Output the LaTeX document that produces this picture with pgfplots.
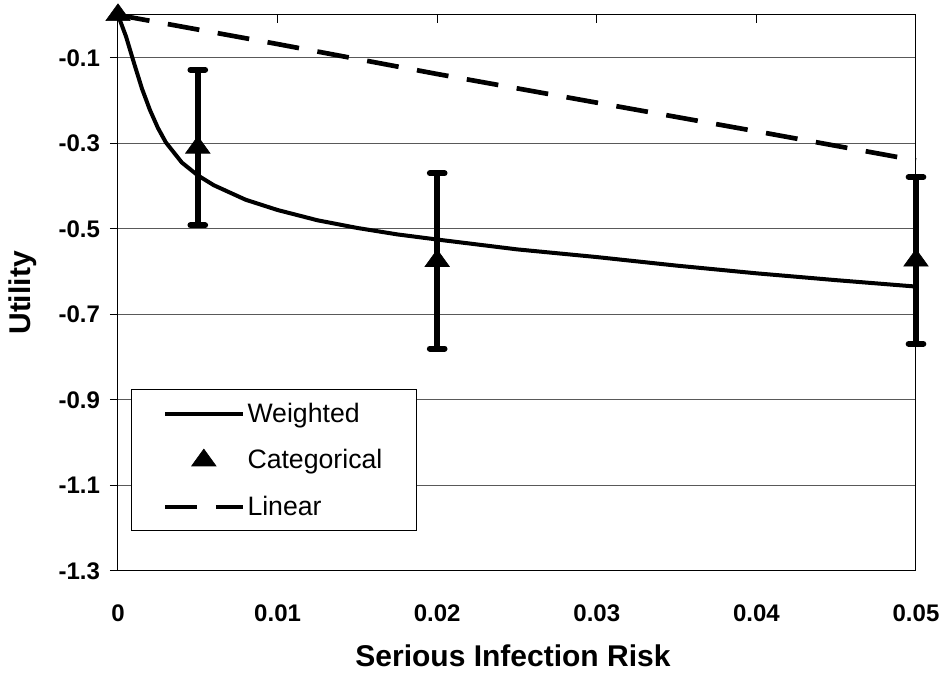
\documentclass[border=0pt]{standalone}
\usepackage{fontspec}
\setmainfont{Liberation Sans}
\usepackage{pgfplots}
\pgfplotsset{compat=1.18}
\pgfplotsset{
  linelegend/.style={legend image code/.code={\draw[##1] (0pt,0pt) -- (58pt,0pt);}},
  catlegend/.style={legend image code/.code={\draw[##1] plot coordinates {(29pt,0pt)};}},
}
\begin{document}
\begin{tikzpicture}[x=1pt,y=1pt]
\path[use as bounding box] (-88.5,-76.5) rectangle (616.5,428.25);
\begin{axis}[
  at={(0pt,0pt)}, anchor=south west,
  scale only axis, width=598.5pt, height=417pt,
  xmin=0, xmax=0.05, ymin=-1.3, ymax=0,
  clip=false,
  scaled x ticks=false, scaled y ticks=false,
  xtick={0,0.01,0.02,0.03,0.04,0.05},
  xticklabels={0,0.01,0.02,0.03,0.04,0.05},
  ytick={-1.3,-1.1,-0.9,-0.7,-0.5,-0.3,-0.1},
  yticklabels={-1.3,-1.1,-0.9,-0.7,-0.5,-0.3,-0.1},
  xtick pos=upper, xticklabel pos=lower,
  ytick pos=left,
  tick align=outside,
  major tick length=6pt,
  x tick style={yshift=-6pt, line width=0.75pt, black},
  y tick style={line width=0.75pt, black},
  ymajorgrids,
  grid style={black!65, line width=0.75pt},
  axis line style={black, line width=0.75pt},
  /pgf/number format/assume math mode=true,
  ticklabel style={font=\fontsize{18}{21}\selectfont\bfseries},
  xticklabel style={yshift=-15.5pt},
  yticklabel style={xshift=-4pt},
  xlabel={Serious Infection Risk},
  ylabel={Utility},
  xlabel style={font=\fontsize{22.5}{26}\selectfont\bfseries, at={(axis description cs:0.495,-0.152)}, anchor=center},
  ylabel style={font=\fontsize{22.5}{26}\selectfont\bfseries, at={(axis description cs:-0.119,0.5)}, anchor=center, rotate=0},
  legend style={at={(axis description cs:0.0163,0.327)}, anchor=north west,
    draw=black, line width=0.75pt, fill=white,
    font=\fontsize{20}{24}\selectfont,
    row sep=15pt, inner xsep=23.5pt, inner ysep=8pt},
  legend cell align=left,
]
\addplot[black, line width=3pt, line join=round, linelegend] coordinates {
(0,0) (0.0005,-0.05) (0.001,-0.112) (0.0015,-0.172) (0.002,-0.222)
(0.0025,-0.264) (0.003,-0.298) (0.004,-0.345) (0.005,-0.375)
(0.006,-0.398) (0.008,-0.432) (0.01,-0.456) (0.0125,-0.48)
(0.015,-0.498) (0.0175,-0.513) (0.02,-0.525) (0.025,-0.548)
(0.03,-0.566) (0.035,-0.586) (0.04,-0.604) (0.045,-0.62) (0.05,-0.635)
};
\addlegendentry{Weighted}
\addplot[black, only marks, mark=triangle*, mark size=10.5pt,
  mark options={yscale=0.8, fill=black, line width=0.5pt},
  catlegend,
  error bars/.cd, y dir=both, y explicit,
  error bar style={line width=4.25pt},
  error mark options={rotate=90, line width=4.5pt, mark size=5.5pt, line cap=round}]
  coordinates {
(0.005,-0.31) +- (0,0.182)
(0.02,-0.575) +- (0,0.205)
(0.05,-0.574) +- (0,0.195)
};
\addlegendentry{Categorical}
\addplot[black, only marks, mark=triangle*, mark size=10.5pt,
  mark options={yscale=0.8, fill=black}, forget plot] coordinates {(0,0)};
\addplot[black, line width=3.5pt, dash pattern=on 24pt off 14pt, linelegend] coordinates {
(0,0) (0.01,-0.068) (0.02,-0.138) (0.03,-0.205) (0.04,-0.272) (0.05,-0.34)
};
\addlegendentry{Linear}
\end{axis}
\end{tikzpicture}
\end{document}
